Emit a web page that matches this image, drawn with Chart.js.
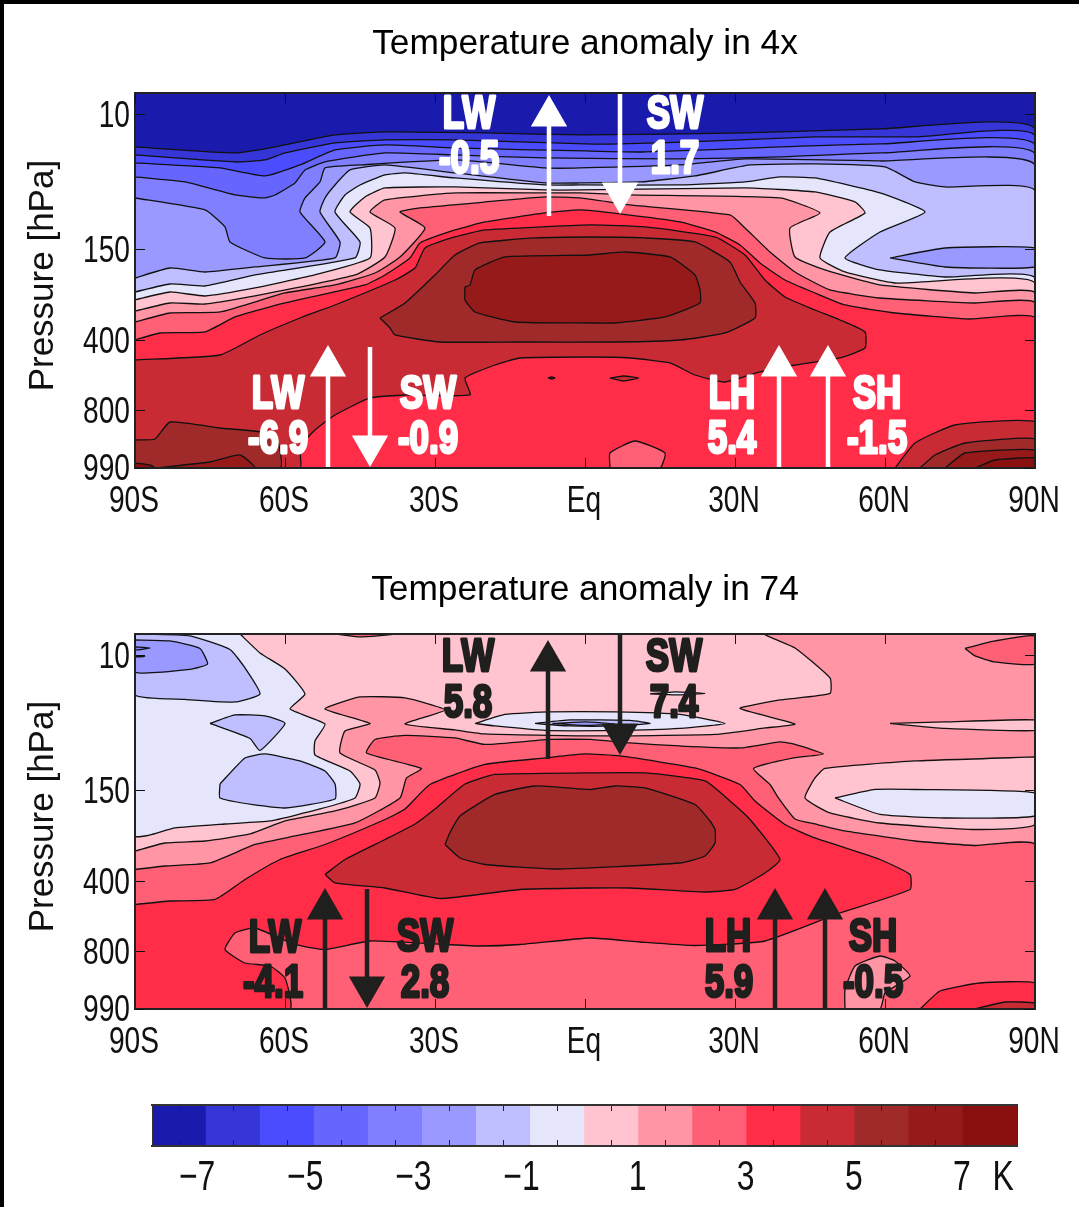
<!DOCTYPE html>
<html lang="en">
<head>
  <meta charset="UTF-8">
  <title>Temperature anomaly</title>
  <script src="https://cdn.jsdelivr.net/npm/chart.js@4.4.4/dist/chart.umd.min.js"></script>
  <style>
    html, body { margin: 0; background: #fff; }
    body { width: 1079px; height: 1207px; position: relative; overflow: hidden; }
    canvas { position: absolute; left: 0; }
    #edgeLeft { position: absolute; left: 0; top: 0; width: 4px; height: 1207px; background: #000; }
    #edgeTop { position: absolute; left: 0; top: 0; width: 1079px; height: 4px; background: #000; }
  </style>
</head>
<body>
  <canvas id="panelA" width="1079" height="530" style="top:0"></canvas>
  <canvas id="panelB" width="1079" height="530" style="top:541px"></canvas>
  <canvas id="colorbar" width="1079" height="117" style="top:1090px"></canvas>
  <div id="edgeLeft"></div>
  <div id="edgeTop"></div>
  <script>
    // axes
    const latTicks = [-90, -60, -30, 0, 30, 60, 90];
    const latLabels = ['90S', '60S', '30S', 'Eq', '30N', '60N', '90N'];
    const heightTicks = [0, 57, 127, 218, 353]; // y axis runs in plot height, pressure is not log spaced here
    const pressureLabels = ['990', '800', '400', '150', '10'];

    // colour levels, from the colour bar
    const levelColors = ['#1a1aad', '#3535d8', '#4c4cff', '#6666ff', '#7f7fff', '#9999ff', '#bfbfff', '#e5e5fb',
      '#ffc4d0', '#ff95a5', '#ff6075', '#ff2d48', '#c92b35', '#a02a2a', '#961a1a', '#8a0f0f'];
    const barCenters = [-7.5, -6.5, -5.5, -4.5, -3.5, -2.5, -1.5, -0.5, 0.5, 1.5, 2.5, 3.5, 4.5, 5.5, 6.5, 7.5];
    const barTicks = [-7, -6, -5, -4, -3, -2, -1, 0, 1, 2, 3, 4, 5, 6, 7, 7.76];
    const barLabels = ['\u22127\u2002', '', '\u22125\u2002', '', '\u22123\u2002', '', '\u22121\u2002', '', '1', '', '3', '', '5', '', '7', 'K'];

    // top panel contours: lat, height pairs
    const a1 = [-90,321, -70,315, -63,320, -50,333, -40,336, -20,335, 0,333, 32,335, 59,339, 90,339];
    const a2 = [-90,313, -70,306, -64,308, -60,315, -50,325, -40,328, -26,328, 0,324, 7,324, 26,327, 46,331, 66,331, 90,332];
    const a3 = [-90,305, -73,300, -64,292, -57,303, -50,318, -40,323, -26,320, 0,317, 12,316, 39,321, 59,324, 90,323];
    const a4 = [-90,291, -80,286, -70,273, -64,270, -62,273, -58,285, -56,298, -52,306, -40,315, -26,313, -8,310, 19,309, 39,311, 59,315, 90,314];
    const a5 = [-90,270, -76,258, -72,241, -71,226, -64,210, -56,210, -52,226, -57,256, -56,270, -53,286, -52,300, -45,303, -26,308, -8,300, -1,300, 19,303, 32,309, 59,307, 90,303];
    const a6 = [-90,190, -83,200, -76,196, -66,201, -50,210, -49,226, -53,256, -52,270, -50,283, -47,298, -40,303, -26,295, -8,285, -1,285, 11,286, 22,292, 33,303, 46,304, 60,301, 66,286, 72,281, 90,277];
    const a7 = [-90,176, -83,184, -76,182, -66,193, -46,210, -45,226, -50,256, -48,273, -45,283, -40,293, -36,295, -26,290, -8,283, -1,283, 19,283, 32,286, 39,291, 46,290, 59,275, 68,256, 59,236, 52,210, 59,198, 72,191, 90,190];
    const a8 = [-90,168, -83,176, -76,172, -66,180, -55,192, -43,210, -43,240, -47,256, -44,271, -40,280, -26,281, -8,278, -1,278, 32,280, 46,276, 54,266, 56,255, 49,236, 47,210, 52,196, 62,185, 90,185];
    const a9 = [-90,157, -83,165, -76,164, -66,172, -46,193, -40,211, -38,240, -43,256, -40,268, -26,275, -8,275, -1,275, 9,273, 39,270, 47,255, 41,240, 42,211, 48,198, 59,183, 78,175, 90,175];
    const a10 = [-90,146, -83,155, -73,156, -60,175, -50,183, -42,195, -37,211, -32,240, -37,256, -33,260, -20,266, -8,271, -1,270, 9,263, 29,253, 32,240, 37,216, 42,196, 49,178, 59,170, 78,165, 90,165];
    const a11 = [-90,128, -85,135, -76,136, -70,151, -60,165, -44,183, -40,193, -35,210, -33,225, -26,238, -20,246, -8,255, -1,258, 7,254, 19,246, 26,236, 31,223, 35,205, 40,188, 46,175, 52,163, 62,155, 77,149, 90,150];
    const a12 = [-90,108, -73,113, -65,133, -57,150, -50,163, -38,188, -34,200, -32,220, -26,231, -20,238, 1,243, 12,241, 26,231, 32,213, 36,188, 40,171, 46,158, 51,148, 56,136, 56,120, 51,110, 42,103, 35,96, 28,86, 22,93, 17,105, 9,110, 1,111, -13,110, -18,103, -24,90, -23,73, -36,73, -43,70, -50,53, -54,38, -57,21, -57,0, -90,0];
    const a13 = [-41,150, -36,165, -30,193, -26,213, -21,225, -10,230, 1,231, 12,230, 22,226, 29,206, 31,186, 34,165, 34,150, 28,135, 19,128, 6,126, -13,126, -29,126, -38,133, -39,140];
    const a14 = [-24,181, -23,183, -22,198, -16,211, 1,213, 8,216, 17,211, 22,193, 23,178, 23,165, 16,151, 6,145, 1,145, -14,146, -22,156, -24,168];
    const aBlobLeft1 = [-90,28, -86,29, -83,46, -73,40, -62,33, -61,0, -90,0];
    const aBlobLeft2 = [-86,0, -75,6, -69,13, -66,0];
    const aBlobLeft3 = [-90,5, -87,3, -86,0, -90,0];
    const aLensLat = [61,210, 72,220, 90,220, 90,201, 72,201];
    const aLens = [5,90, 7.7,92, 10.7,90, 7.7,87];
    const aDot = [-7.4,90, -6.7,91, -6,90, -6.7,89];
    const aSurface = [5,0, 5,15, 10,27, 16,15, 15,0];
    const aRight1 = [62,0, 66,25, 74,43, 90,46, 90,0];
    const aRight2 = [67,0, 70,13, 76,25, 90,29, 90,0];
    const aRight3 = [72,0, 76,15, 90,18, 90,0];
    const aRight4 = [78,0, 82,8, 90,10, 90,0];

    // bottom panel contours
    const b1 = [-69,375, -65,356, -60,340, -56,315, -59,300, -52,285, -54,268, -54,254, -47,238, -45,225, -46,211, -53,200, -63,188, -72,185, -82,181, -87,174, -90,173, -90,375];
    const b2 = [-90,158, -84,166, -76,168, -67,175, -60,188, -50,198, -42,211, -41,226, -42,239, -49,256, -48,278, -43,285.5, -52,300, -45,312, -36,311, -28,299, -36,285, -26,279, -20,275, 1,273, 26,274.5, 36,281, 42,285, 31,300.5, 39,309, 49,315.5, 49,331, 42,361, 36,375, 90,375, 90,0, -90,0];
    const b3 = [-90,139.5, -84,143, -75,146, -66,164.5, -58,173, -46,186, -37,211, -35.7,231, -32.7,240.5, -43.7,256, -42,269.5, -36,273.5, -26,271, -20,264.5, -7,269.5, 1,269.5, 9,266, 19,263, 31,261, 39,267, 42,264.5, 47.7,255, 41.7,251, 33.7,240.5, 37,224.5, 38.7,211, 42,190, 46,185, 52,178, 66,168, 78,163.5, 90,164.5, 90,0, -90,0];
    const b4 = [-90,104.5, -83,108, -74,109.5, -68,129.5, -61,149.5, -52,164.5, -40,189.5, -36,200, -31,224.5, -20,244.5, -8,251, 0,255, 7,253, 22,241, 31,224.5, 34,208, 40,184.5, 46,171, 59,149.5, 65,134.5, 65,119.5, 51,96, 36,68, 22,63.5, 11,67, 1,71, -13,64.5, -21,63, -28,64.5, -43,68, -52,59.5, -58,64.5, -66,81, -70,76, -72,59.5, -68,46, -63,43, -60,31, -59,0, -90,0];
    const b5 = [-52,134.5, -48,149.5, -40,169.5, -34,185, -30,200, -24,225, -18,234.5, 0,236, 12,236, 24,228, 29,208, 33,189.5, 39,149.5, 36,136, 30,119.5, 24,117, 9,121, 1,121, -13,119.5, -29,110.5, -40,121, -50,126];
    const b6 = [-28,164.5, -25,151, -20,144.5, -6,140, 19,146, 24,153, 26,166, 26,179.5, 25,188, 22,204.5, 12,221, 6,223, 1,219.5, -10,223, -18,214.5, -25,193, -27,176.5];
    const bBlue1 = [-90,375, -79,373, -71,359.5, -68,341, -65,315, -70,307, -80,309.5, -90,314];
    const bBlue2 = [-90,369, -83,368, -77,360.5, -75.5,345, -79,339.5, -90,337];
    const bBlue3 = [-90,362, -87,361, -90,359];
    const bBlue4 = [-90,353, -88,352.5, -90,352];
    const bBlue5 = [-75,285.5, -70,294, -64,293, -60,285.5, -65,258.5, -67,270.5];
    const bBlue6 = [-73,225, -68,251, -64,255, -57,248, -52,238, -50,225, -50,210, -60,201, -66,204, -73,211];
    const bLens1 = [-22,285.5, -16,294.5, -7,297, 6,297, 19,294.5, 28,285.5, 19,280.5, 6,278.5, -8,278.5, -18,283];
    const bLens2 = [-10,285.5, -3,289, 9,288.5, 13,285.5, 6,283, -3,283];
    const bLens3 = [-6.5,285.5, 0,287, 6,285, 0,283.5];
    const bLens4 = [13,315, 18,317, 24,315.5, 18,314];
    const bTop = [-50,375, -45,372, -38,375];
    const bRight1 = [90,252, 66,248, 48,240.5, 46,231, 44,211, 49,196, 59,186, 78,179.5, 90,184.5];
    const bRight2 = [50,211, 58,219.5, 66,219.5, 90,216, 90,193, 72,191, 59,194.5];
    const bRight3 = [61,285.5, 72,287, 90,289, 90,278.5, 72,280.5];
    const bRight4 = [76,360.5, 82,368, 90,373, 90,345, 82,347, 78,353];
    const bSurface1 = [67,0, 71,18, 79,26, 90,26, 90,0];
    const bSurface2 = [78,0, 84,7, 90,6, 90,0];
    const bSurface3 = [52,0, 52,19.5, 54,43, 59,53, 62,48, 65,33, 60,16, 59,0];

    const wholePlot = [-90,0, 90,0, 90,375, -90,375];

    // colour index, contour, and whether the contour needs closing along the bottom
    const layersA = [
      [0, wholePlot, 'none'], [1, a1, 'below'], [2, a2, 'below'], [3, a3, 'below'], [4, a4, 'below'], [5, a5, 'below'], [6, a6, 'below'],
      [5, aLensLat, 'loop'], [7, a7, 'below'], [8, a8, 'below'], [9, a9, 'below'], [10, a10, 'below'], [11, a11, 'below'],
      [12, a12, 'loop'], [13, a13, 'loop'], [14, a14, 'loop'], [13, aBlobLeft1, 'loop'], [14, aBlobLeft2, 'loop'], [15, aBlobLeft3, 'loop'],
      [12, aLens, 'loop'], [12, aDot, 'loop'], [10, aSurface, 'loop'],
      [12, aRight1, 'loop'], [13, aRight2, 'loop'], [14, aRight3, 'loop'], [15, aRight4, 'loop']
    ];
    const layersB = [
      [8, wholePlot, 'none'], [7, b1, 'loop'], [9, b2, 'loop'], [10, b3, 'loop'], [11, b4, 'loop'], [12, b5, 'loop'], [13, b6, 'loop'],
      [6, bBlue1, 'loop'], [5, bBlue2, 'loop'], [4, bBlue3, 'loop'], [4, bBlue4, 'loop'], [6, bBlue5, 'loop'], [6, bBlue6, 'loop'],
      [7, bLens1, 'loop'], [6, bLens2, 'loop'], [5, bLens3, 'loop'], [7, bLens4, 'loop'], [10, bTop, 'loop'],
      [8, bRight1, 'loop'], [7, bRight2, 'loop'], [8, bRight3, 'loop'], [10, bRight4, 'loop'],
      [9, bSurface3, 'loop'], [11, bSurface1, 'loop'], [12, bSurface2, 'loop']
    ];

    // arrows: lat, base height, head height (head centre), direction
    const arrowsA = [[-7.2, 252, 352, 'up'], [7, 375, 275, 'down'], [-51.4, 0, 102, 'up'], [-43, 121, 22, 'down'], [38.8, 0, 102, 'up'], [48.6, 0, 102, 'up']];
    const arrowsB = [[-7.4, 250, 348, 'up'], [7, 375, 275, 'down'], [-52, 0, 100, 'up'], [-43.6, 120, 22, 'down'], [38, 0, 100, 'up'], [48, 0, 100, 'up']];

    // flux labels: text, lat, height
    const notesA = [['LW', -23.2, 355], ['-0.5', -23.2, 310], ['SW', 18, 355], ['1.7', 18, 310],
      ['LW', -61.4, 75], ['-6.9', -61.4, 30], ['SW', -31.4, 75], ['-0.9', -31.4, 30],
      ['LH', 29.4, 75], ['5.4', 29.4, 30], ['SH', 58.4, 75], ['-1.5', 58.4, 30]];
    const notesB = [['LW', -23.4, 353], ['5.8', -23.4, 307], ['SW', 17.8, 353], ['7.4', 17.8, 307],
      ['LW', -62, 72], ['-4.1', -62.4, 27], ['SW', -32, 73], ['2.8', -32, 27],
      ['LH', 28.6, 73], ['5.9', 28.8, 27], ['SH', 57.6, 73], ['-0.5', 57.6, 27]];

    const PLAIN = '"Liberation Sans", Arial, sans-serif';
    const SQUEEZE = 0.76; // the original figure is stretched, no narrow font is installed

    function squeezedText(c, text, x, y, stroke) {
      c.save();
      c.translate(x, y);
      c.scale(SQUEEZE, 1);
      if (stroke) c.strokeText(text, 0, 0);
      c.fillText(text, 0, 0);
      c.restore();
    }

    function toPoints(flat) {
      const pts = [];
      for (let i = 0; i < flat.length; i += 2) pts.push({ x: flat[i], y: flat[i + 1] });
      return pts;
    }

    function layerDataset(layer, i, total) {
      const pts = toPoints(layer[1]);
      if (layer[2] === 'below') pts.push({ x: 90, y: 0 }, { x: -90, y: 0 });
      pts.push(pts[0]);
      return {
        data: pts,
        showLine: true,
        fill: 'shape',
        backgroundColor: levelColors[layer[0]],
        borderColor: layer[2] === 'none' ? levelColors[layer[0]] : '#111',
        borderWidth: 1.3,
        pointRadius: 0,
        tension: 0.15,
        order: 100 + total - i
      };
    }

    function arrowDataset(arrow, color) {
      return {
        data: [{ x: arrow[0], y: arrow[1] }, { x: arrow[0], y: arrow[2] }],
        showLine: true,
        fill: false,
        borderColor: color,
        borderWidth: 4.5,
        backgroundColor: color,
        pointBackgroundColor: color,
        pointBorderColor: color,
        pointBorderWidth: 0,
        pointStyle: 'triangle',
        pointRadius: [0, 21],
        pointRotation: arrow[3] === 'up' ? 0 : 180,
        clip: false,
        order: 1
      };
    }

    const noteText = {
      id: 'noteText',
      afterDatasetsDraw(chart, args, opts) {
        const c = chart.ctx;
        c.save();
        c.font = 'bold 46px ' + PLAIN;
        c.textAlign = 'center';
        c.textBaseline = 'middle';
        c.lineJoin = 'round';
        c.lineWidth = 3;
        c.fillStyle = opts.color;
        c.strokeStyle = opts.color;
        opts.notes.forEach(n => {
          squeezedText(c, n[0], chart.scales.x.getPixelForValue(n[1]), chart.scales.y.getPixelForValue(n[2]) + 2, true);
        });
        c.restore();
      }
    };

    // tick labels, squeezed like the original
    const narrowTicks = {
      id: 'narrowTicks',
      afterDraw(chart, args, opts) {
        const c = chart.ctx;
        c.save();
        c.font = opts.size + 'px ' + PLAIN;
        c.fillStyle = '#111';
        c.textBaseline = 'middle';
        c.textAlign = 'center';
        chart.scales.x.ticks.forEach(t => {
          squeezedText(c, t.label, chart.scales.x.getPixelForValue(t.value) - 1, chart.scales.x.top + opts.xGap);
        });
        if (opts.yLabels) {
          c.textAlign = 'right';
          chart.scales.y.ticks.forEach(t => {
            squeezedText(c, t.label, chart.scales.y.right - 5, chart.scales.y.getPixelForValue(t.value) + 2);
          });
        }
        c.restore();
      }
    };

    function setTicks(list) {
      return scale => { scale.ticks = list.map(v => ({ value: v })); };
    }

    function panel(id, titleText, titleTop, xGap, layers, arrows, notes, color) {
      const inner = {
        grid: { drawOnChartArea: false, tickLength: -10, tickColor: '#111', tickWidth: 1, z: 1 },
        border: { color: '#222', width: 2, z: 1 }
      };
      const datasets = layers.map((l, i) => layerDataset(l, i, layers.length))
        .concat(arrows.map(a => arrowDataset(a, color)));
      return new Chart(document.getElementById(id), {
        type: 'scatter',
        data: { datasets },
        plugins: [noteText, narrowTicks],
        options: {
          responsive: false,
          animation: false,
          events: [],
          layout: { padding: 0, autoPadding: false },
          plugins: {
            legend: { display: false },
            tooltip: { enabled: false },
            noteText: { notes, color },
            narrowTicks: { size: 37, xGap, yLabels: true },
            title: {
              display: true,
              text: titleText,
              fullSize: false,
              color: '#000',
              font: { family: PLAIN, size: 35.3, weight: 'normal' },
              padding: { top: titleTop, bottom: 3 }
            }
          },
          scales: {
            x: {
              type: 'linear', position: 'bottom', min: -90, max: 90, ...inner,
              afterBuildTicks: setTicks(latTicks),
              afterFit: s => { s.height = 62; },
              ticks: { display: false, autoSkip: false, maxRotation: 0, callback: (v, i) => latLabels[i] }
            },
            y: {
              type: 'linear', position: 'left', min: 0, max: 375, ...inner,
              afterBuildTicks: setTicks(heightTicks),
              afterFit: s => { s.width = 135; },
              title: {
                display: true, text: '\u00a0Pressure [hPa]', color: '#111',
                font: { family: PLAIN, size: 35, weight: 'normal' },
                padding: { top: 22, bottom: 0 }
              },
              ticks: { display: false, autoSkip: false, callback: (v, i) => pressureLabels[i] }
            },
            xTop: {
              type: 'linear', position: 'top', min: -90, max: 90, ...inner,
              afterBuildTicks: setTicks(latTicks),
              afterFit: s => { s.height = 93 - titleTop - 45.4; },
              ticks: { display: false }
            },
            yRight: {
              type: 'linear', position: 'right', min: 0, max: 375, ...inner,
              afterBuildTicks: setTicks(heightTicks),
              afterFit: s => { s.width = 44; },
              ticks: { display: false }
            }
          }
        }
      });
    }

    panel('panelA', 'Temperature anomaly in 4x', 23, 34, layersA, arrowsA, notesA, '#fff');
    panel('panelB', 'Temperature anomaly in 74', 28, 34, layersB, arrowsB, notesB, '#1f1f1d');

    const barGrid = {
      drawOnChartArea: false, tickLength: -6, tickWidth: 1, z: 1,
      tickColor: c => (c.tick && Number.isInteger(c.tick.value) ? '#222' : 'rgba(0,0,0,0)')
    };
    new Chart(document.getElementById('colorbar'), {
      type: 'bar',
      data: {
        datasets: [{
          data: barCenters.map(v => ({ x: v, y: 1 })),
          backgroundColor: levelColors,
          barThickness: 54.1,
          borderWidth: 0
        }]
      },
      plugins: [narrowTicks],
      options: {
        responsive: false,
        animation: false,
        events: [],
        layout: { padding: 0, autoPadding: false },
        plugins: {
          legend: { display: false },
          tooltip: { enabled: false },
          narrowTicks: { size: 42, xGap: 32, yLabels: false }
        },
        scales: {
          x: {
            type: 'linear', position: 'bottom', min: -8, max: 8, offset: false,
            grid: barGrid,
            border: { color: '#333', width: 2, z: 1 },
            afterBuildTicks: setTicks(barTicks),
            afterFit: s => { s.height = 61; },
            ticks: { display: false, autoSkip: false, maxRotation: 0, callback: (v, i) => barLabels[i] }
          },
          xTop: {
            type: 'linear', position: 'top', min: -8, max: 8, offset: false,
            grid: barGrid,
            border: { color: '#333', width: 2, z: 1 },
            afterBuildTicks: setTicks(barTicks),
            afterFit: s => { s.height = 15; },
            ticks: { display: false }
          },
          y: {
            type: 'linear', position: 'left', min: 0, max: 1,
            grid: { drawOnChartArea: false, drawTicks: false },
            border: { color: '#333', width: 1, z: 1 },
            afterFit: s => { s.width = 152; },
            ticks: { display: false }
          },
          yRight: {
            type: 'linear', position: 'right', min: 0, max: 1,
            grid: { drawOnChartArea: false, drawTicks: false },
            border: { color: '#333', width: 1, z: 1 },
            afterFit: s => { s.width = 62; },
            ticks: { display: false }
          }
        }
      }
    });
  </script>
</body>
</html>
